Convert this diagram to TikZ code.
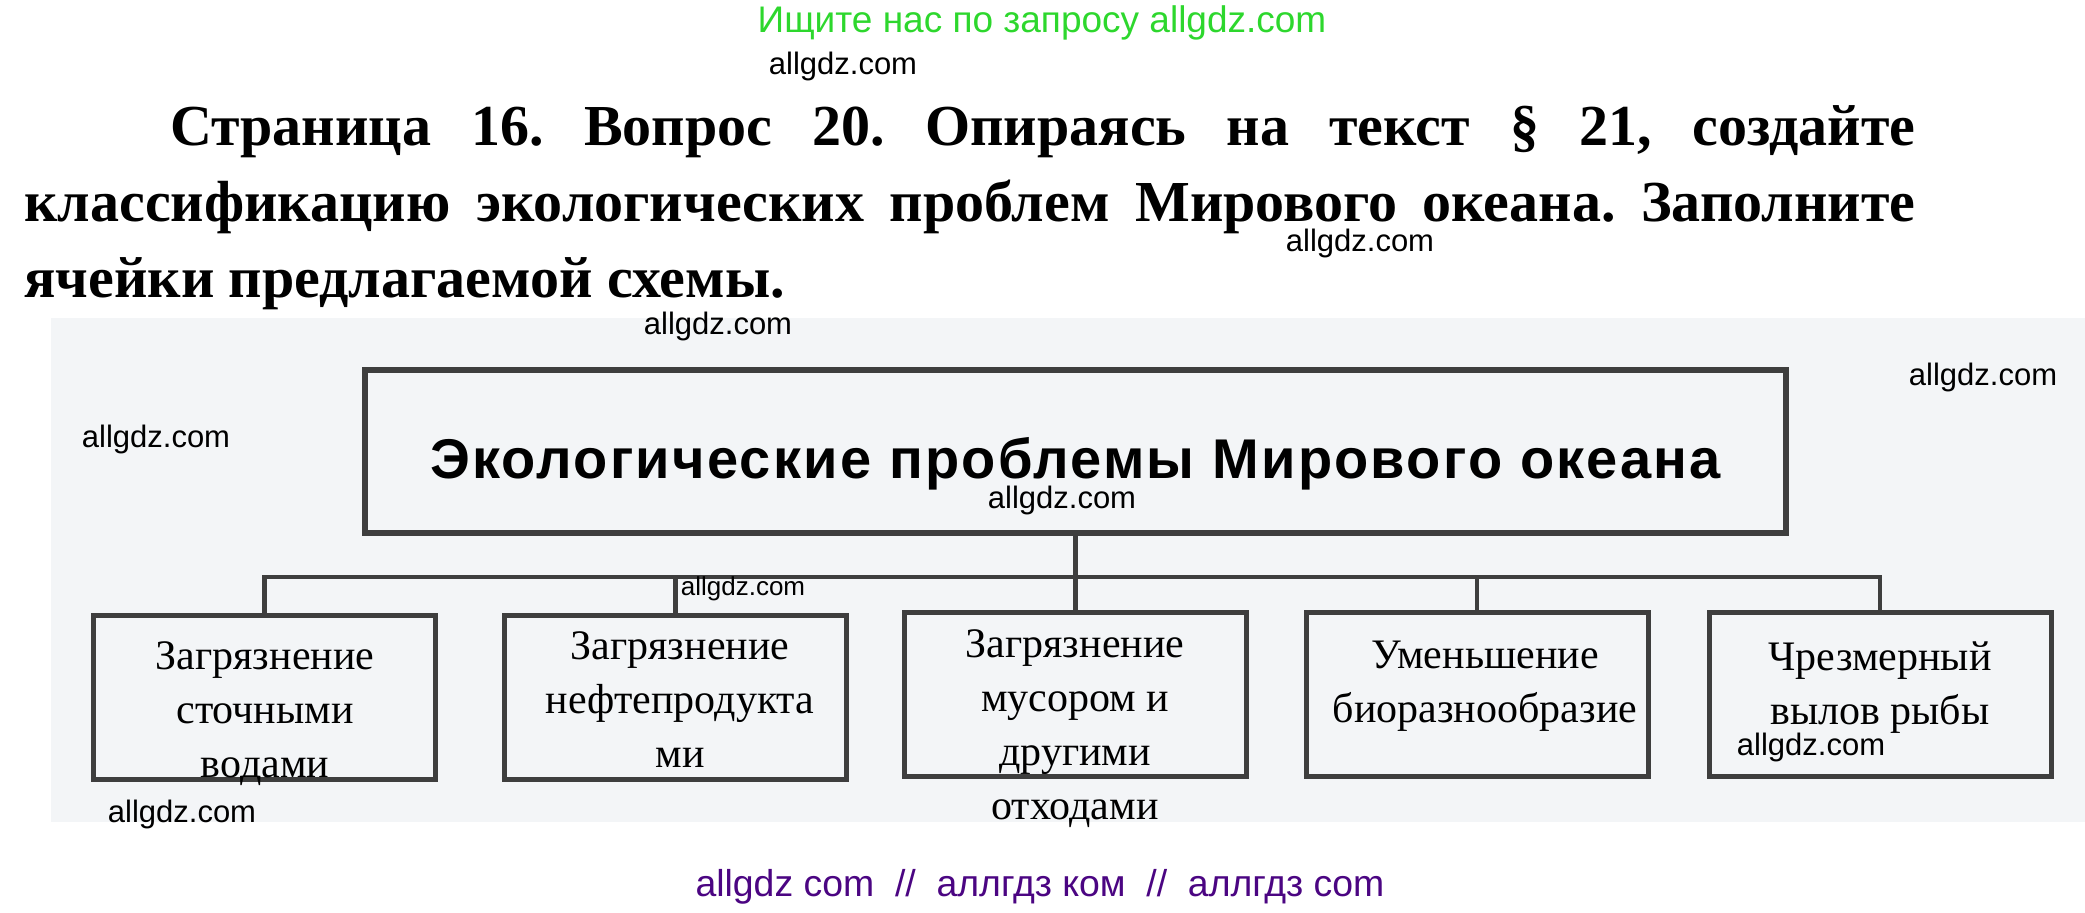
\documentclass[tikz,border=0pt]{standalone}
\usepackage{fontspec}
\setmainfont{Liberation Serif}
\newfontfamily\sitefont{Liberation Sans}
\newfontfamily\headfont[LetterSpace=4]{Liberation Sans}
\definecolor{sitegreen}{RGB}{45,215,45}
\definecolor{sitepurple}{RGB}{75,5,130}
\definecolor{frame}{RGB}{62,62,62}
\definecolor{scan}{RGB}{243,245,247}
\frenchspacing
\begin{document}
\begin{tikzpicture}[x=0.5pt, y=-0.5pt,
  cell/.style={draw=frame, line width=2.5pt, minimum width=171pt, minimum height=82pt, inner sep=0pt},
  celltext/.style={anchor=north, align=center, inner sep=0pt, font=\fontsize{21}{27}\selectfont},
  wm/.style={inner sep=0pt, font=\sitefont\fontsize{15.5}{18}\selectfont},
  link/.style={draw=frame, line width=2.3pt}]
\useasboundingbox (0,0) rectangle (2085,913);
% scanned sheet
\fill[scan] (51,318) rectangle (2085,822);
% header and task text
\node[inner sep=0pt, text=sitegreen, font=\sitefont\fontsize{18.5}{22}\selectfont] (ask) at (1042,23) {Ищите нас по запросу allgdz.com};
\node[anchor=north west, text width=945.5pt, align=justify, inner sep=0pt, font=\bfseries\fontsize{29}{38}\selectfont] (task) at (24,105) {\noindent\hspace*{73pt}Страница 16. Вопрос 20. Опираясь на текст § 21, создайте\linebreak классификацию экологических проблем Мирового океана. Заполните\linebreak ячейки предлагаемой схемы.};
% scheme
\node[draw=frame, line width=3pt, minimum width=710.5pt, minimum height=81.5pt, text height=26.5pt, text depth=0pt, font=\headfont\bfseries\fontsize{28}{30}\selectfont] (ocean) at (1075.5,452) {Экологические проблемы Мирового океана};
\node[cell] (b1) at (264.5,698) {};
\node[cell] (b2) at (675.5,698) {};
\node[cell] (b3) at (1075.5,695) {};
\node[cell] (b4) at (1477,695) {};
\node[cell] (b5) at (1880,695) {};
\node[celltext] (t1) at (265,641) {Загрязнение\\сточными\\водами};
\node[celltext] (t2) at (680,631) {Загрязнение\\нефтепродукта\\ми};
\node[celltext] (t3) at (1075,629) {Загрязнение\\мусором и\\другими\\отходами};
\node[celltext] (t4) at (1485,641) {Уменьшение\\биоразнообразие};
\node[celltext] (t5) at (1880,641) {Чрезмерный\\вылов рыбы};
\coordinate (bus) at (0,577);
\path[link] (ocean.south) edge (ocean.south |- bus);
\path[link] (b1.north) |- (b5.north |- bus) -- (b5.north);
\foreach \b in {b2,b3,b4}
  \path[link] (\b.north) edge (\b.north |- bus);
% watermarks
\node[wm] (wm1) at (843,66) {allgdz.com};
\node[wm] (wm2) at (1360,243) {allgdz.com};
\node[wm] (wm3) at (718,326) {allgdz.com};
\node[wm] (wm4) at (1983,377) {allgdz.com};
\node[wm] (wm5) at (156,439) {allgdz.com};
\node[wm] (wm6) at (1062,500) {allgdz.com};
\node[wm, font=\sitefont\fontsize{13}{15}\selectfont] (wm7) at (743,589) {allgdz.com};
\node[wm] (wm8) at (182,814) {allgdz.com};
\node[wm] (wm9) at (1811,747) {allgdz.com};
\node[inner sep=0pt, text=sitepurple, font=\sitefont\fontsize{18.7}{22}\selectfont] (mirror) at (1040,887) {allgdz com\ \ //\ \ аллгдз ком\ \ //\ \ аллгдз com};
\end{tikzpicture}
\end{document}
